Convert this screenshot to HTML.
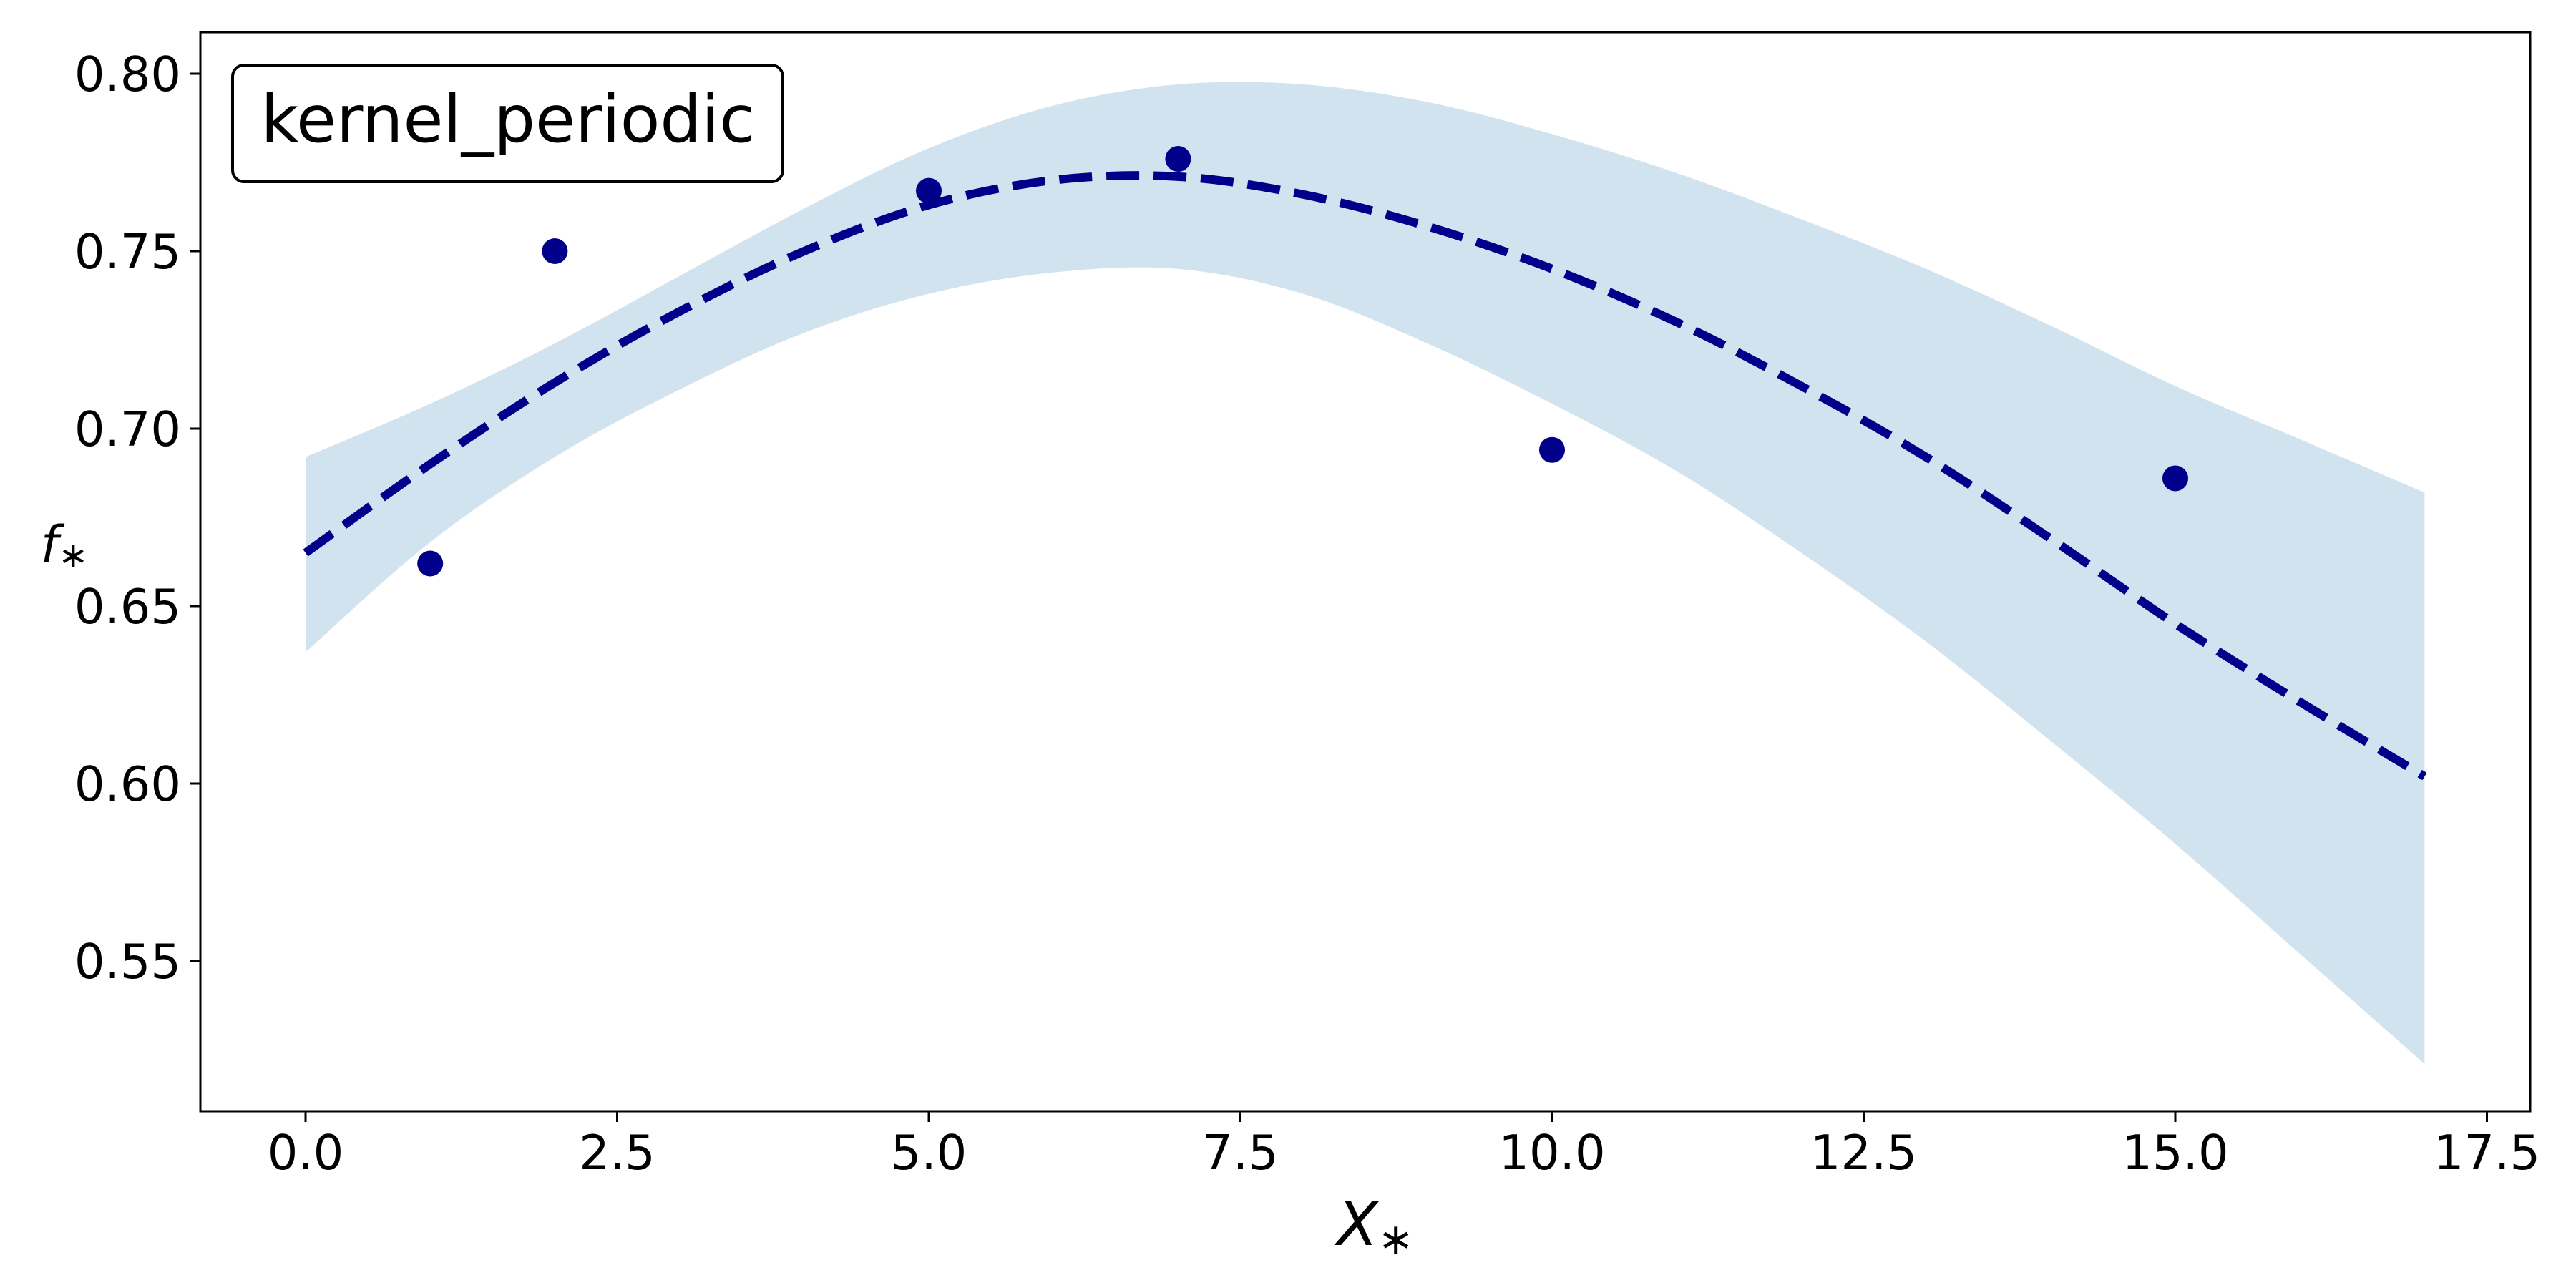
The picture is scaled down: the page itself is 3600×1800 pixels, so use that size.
<!DOCTYPE html>
<html><head><meta charset="utf-8"><style>
html,body{margin:0;padding:0;background:#fff;}
svg{display:block;font-family:"DejaVu Sans","Liberation Sans",sans-serif;}
</style></head><body>
<svg id="chart" width="3600" height="1800" viewBox="0 0 3600 1800" xmlns="http://www.w3.org/2000/svg">
<rect width="3600" height="1800" fill="#fff"/>
<g id="plot"></g>
</svg>
<script>
const gridX = [0,1,2,3,4,5,6,7,8,9,10,11,12,13,14,15,16,17];
const meanY = [0.665,0.690,0.713,0.733,0.750,0.763,0.770,0.771,0.766,0.757,0.745,0.730,0.712,0.692,0.669,0.645,0.623,0.602];
const upperY = [0.692,0.707,0.724,0.743,0.762,0.779,0.791,0.797,0.797,0.792,0.783,0.772,0.759,0.745,0.729,0.712,0.697,0.682];
const lowerY = [0.637,0.668,0.692,0.711,0.727,0.738,0.744,0.745,0.738,0.724,0.707,0.688,0.665,0.640,0.612,0.583,0.552,0.521];
const obsX = [1,2,5,7,10,15];
const obsY = [0.662,0.750,0.767,0.776,0.694,0.686];
const xTicks = [0,2.5,5,7.5,10,12.5,15,17.5];
const xTickLabels = ["0.0","2.5","5.0","7.5","10.0","12.5","15.0","17.5"];
const yTicks = [0.55,0.60,0.65,0.70,0.75,0.80];
const yTickLabels = ["0.55","0.60","0.65","0.70","0.75","0.80"];

const NS="http://www.w3.org/2000/svg";
const L=280,R=3536,T=45,B=1553;
function sx(v){return 427+v*174.2;}
function sy(v){return 103+(0.80-v)*4960;}
const g=document.getElementById('plot');
function mk(tag,attrs,parent){const e=document.createElementNS(NS,tag);for(const k in attrs)e.setAttribute(k,attrs[k]);(parent||g).appendChild(e);return e;}

function smooth(xs,ys){
  const p=xs.map((x,i)=>[sx(x),sy(ys[i])]);
  let d=`M${p[0][0]},${p[0][1]}`;
  for(let i=0;i<p.length-1;i++){
    const p0=p[Math.max(0,i-1)],p1=p[i],p2=p[i+1],p3=p[Math.min(p.length-1,i+2)];
    const c1=[p1[0]+(p2[0]-p0[0])/6,p1[1]+(p2[1]-p0[1])/6];
    const c2=[p2[0]-(p3[0]-p1[0])/6,p2[1]-(p3[1]-p1[1])/6];
    d+=` C${c1[0]},${c1[1]} ${c2[0]},${c2[1]} ${p2[0]},${p2[1]}`;
  }
  return d;
}
const up=smooth(gridX,upperY);
const lowRevX=gridX.slice().reverse(), lowRevY=lowerY.slice().reverse();
const lo=smooth(lowRevX,lowRevY).replace(/^M/,'L');
const band=mk('path',{d:up+' '+lo+' Z',fill:'#d2e3f0',stroke:'none'});


const mean=mk('path',{d:smooth(gridX,meanY),fill:'none',stroke:'#00008b','stroke-width':12,'stroke-dasharray':'46 20'});


obsX.forEach((x,i)=>{
  const c=mk('circle',{cx:sx(x),cy:sy(obsY[i]),r:18,fill:'#00008b'});
  
  
});
const fr=mk('rect',{x:L,y:T,width:R-L,height:B-T,fill:'none',stroke:'#000','stroke-width':3});


xTicks.forEach((v,i)=>{
  const t=mk('line',{x1:sx(v),x2:sx(v),y1:B,y2:B+15,stroke:'#000','stroke-width':3});
  
  
  const tx=mk('text',{x:sx(v),y:B+81,'font-size':67,'text-anchor':'middle',fill:'#000'});
  tx.textContent=xTickLabels[i];
  
  
});
yTicks.forEach((v,i)=>{
  const t=mk('line',{x1:L-15,x2:L,y1:sy(v),y2:sy(v),stroke:'#000','stroke-width':3});
  
  
  const tx=mk('text',{x:L-27,y:sy(v)+24,'font-size':67,'text-anchor':'end',fill:'#000'});
  tx.textContent=yTickLabels[i];
  
  
});
const xl=mk('text',{x:1922,y:1740,'font-size':84,'text-anchor':'middle','font-style':'italic',fill:'#000'});
xl.innerHTML='X<tspan font-size="60" font-style="normal" dy="12">∗</tspan>';


const yl=mk('text',{x:90,y:785,'font-size':70,'text-anchor':'middle','font-style':'italic',fill:'#000'});
yl.innerHTML='f<tspan font-size="50" font-style="normal" dy="8">∗</tspan>';


const bx=mk('rect',{x:325,y:91,width:769,height:163,rx:16,fill:'#fff',stroke:'#000','stroke-width':4});


const bt=mk('text',{x:710,y:198,'font-size':91,'text-anchor':'middle',fill:'#000'});
bt.textContent='kernel_periodic';


</script>
</body></html>
